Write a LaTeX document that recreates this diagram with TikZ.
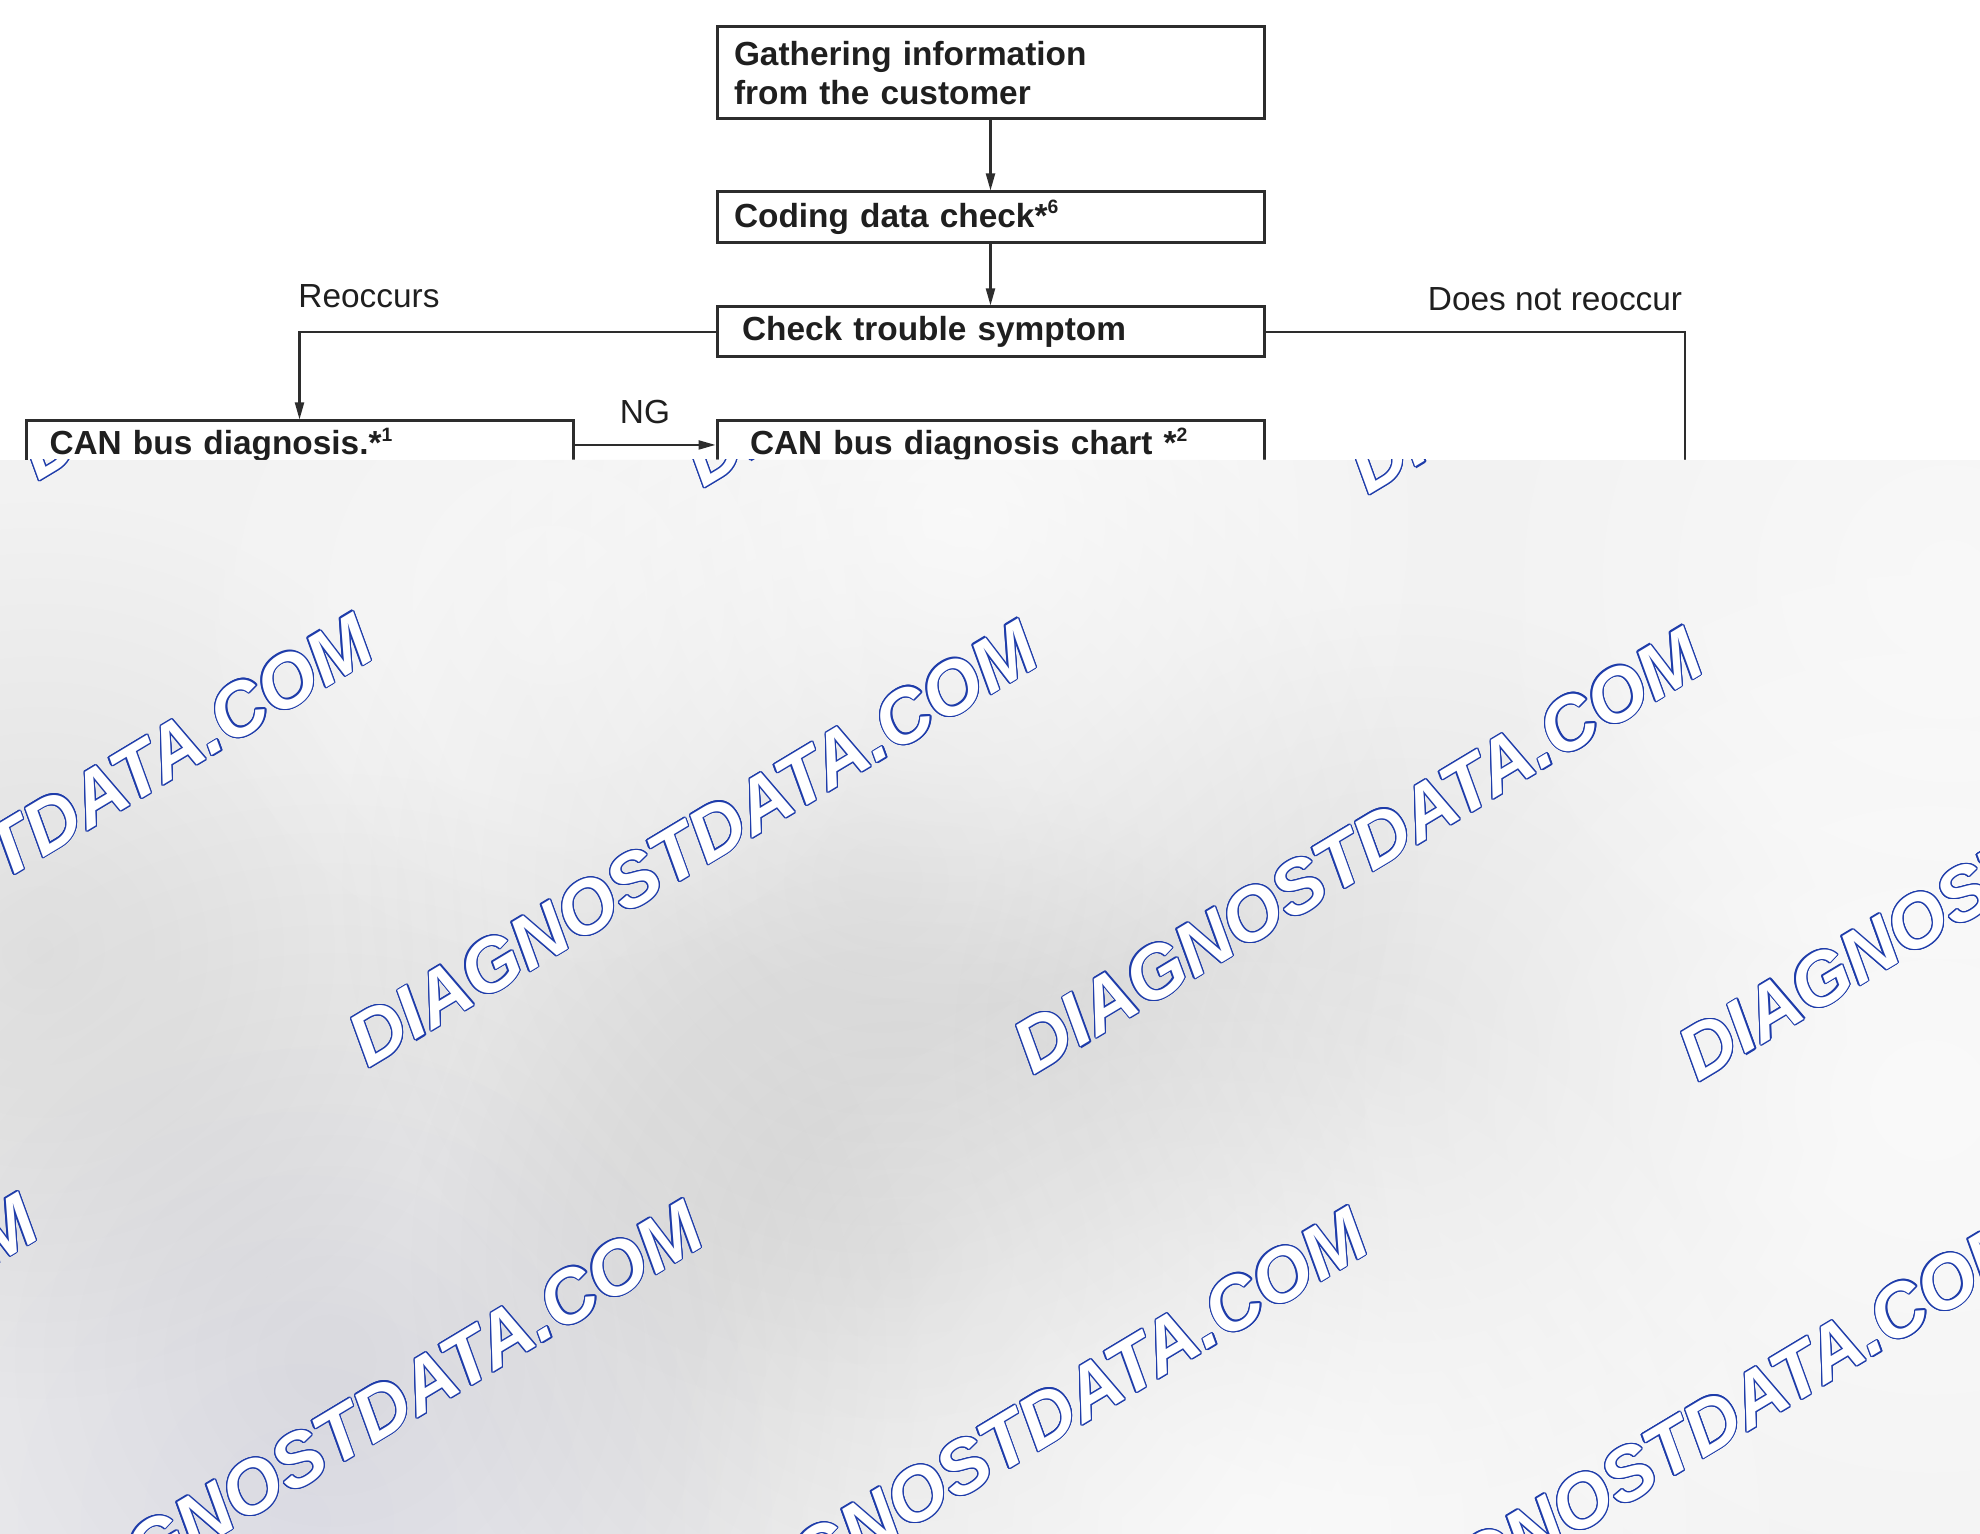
\documentclass[tikz,border=0pt]{standalone}
\usepackage{fontspec}
\setmainfont{Liberation Sans}
\usepackage{contour}
\usetikzlibrary{positioning,arrows.meta,fadings}
\contourlength{0.35pt}
\contournumber{16}
\definecolor{wmblue}{RGB}{30,60,170}
\definecolor{boxline}{RGB}{45,45,45}
\newcommand{\refmark}[1]{\textsuperscript{\fontsize{5.5}{6}\selectfont #1}}
\tikzfading[name=softblob, inner color=transparent!0, outer color=transparent!100]

\begin{document}
\begin{tikzpicture}[
    every node/.style={font=\fontsize{9.5}{11.1}\selectfont, text=black!88},
    stepbox/.style={draw=boxline, line width=0.85pt, rectangle, minimum width=5.47cm,
      text width=5.13cm, align=left, inner xsep=0.17cm, inner ysep=0pt,
      font=\bfseries\fontsize{9.5}{11.1}\selectfont},
    flow/.style={draw=boxline, line width=0.6pt},
    arr/.style={flow, -{Triangle[length=1.7mm,width=0.9mm]}},
    lbl/.style={inner sep=0pt},
    wmark/.style={rotate=31, anchor=base west, inner sep=0pt, text=white,
      font=\bfseries\itshape\fontsize{21.3}{25}\selectfont}
  ]
    \useasboundingbox (0,0) rectangle (19.8,-15.34);

    \node[stepbox, minimum height=0.92cm] (gather) at (9.905,-0.73) {Gathering information\\from the customer};
    \node[stepbox, minimum height=0.51cm, below=0.7cm of gather] (coding) {Coding data check*\refmark{6}};
    \node[stepbox, minimum height=0.5cm, below=0.61cm of coding, inner xsep=0.25cm, text width=4.97cm] (symptom) {Check trouble symptom};
    \node[stepbox, minimum height=0.48cm, below=0.61cm of symptom, inner xsep=0.33cm, text width=4.81cm] (chart) {CAN bus diagnosis chart *\refmark{2}};
    \node[stepbox, minimum height=0.48cm, left=1.41cm of chart, inner xsep=0.23cm, text width=5.0cm] (canbus) {CAN bus diagnosis.*\refmark{1}};

    \node[lbl] (reoccur) at (3.69,-2.96) {Reoccurs};
    \node[lbl] (noreoccur) at (15.55,-2.99) {Does not reoccur};
    \coordinate (noreoccur end) at (16.85,-5.0);

    \draw[arr] (gather) -- (coding);
    \draw[arr] (coding) -- (symptom);
    \draw[arr] (symptom.west) -| (canbus.north);
    \draw[arr] (canbus) -- node[lbl, above=0.2cm] (ng) {NG} (chart);
    \draw[flow] (symptom.east) -| (noreoccur end);

    \begin{scope}
      \clip (0,-4.6) rectangle (19.8,-15.34);
      \fill[gray!10] (0,-4.6) rectangle (19.8,-15.34);
      \foreach \cx/\cy/\rad/\col/\op in {8.8/-8.8/5.5/black/0.08, 3.3/-13.6/6.0/black/0.08, 9.0/-12.6/5.0/black/0.08,
          0.4/-9.5/4.6/black/0.07, 14.0/-10.5/4.6/black/0.06, 3.0/-15.2/5.0/blue/0.03,
          9.6/-5.2/5.0/white/0.7, 19.3/-11.0/6.0/white/0.6, 12.5/-15.3/6.0/white/0.6, 19.5/-5.8/5.0/white/0.5,
          5.5/-6.0/4.0/white/0.35}
        \fill[\col, opacity=\op, path fading=softblob] (\cx,\cy) circle (\rad);
      \foreach \r in {0,1,2}
        \foreach \c in {-1,0,1,2,3}
          \node[wmark] (wm\r\c) at ({0.38+6.65*\c-3.35*\r},{-4.82-0.07*\c-5.8*\r}) {\contour{wmblue}{DIAGNOSTDATA.COM}};
    \end{scope}
  \end{tikzpicture}
\end{document}
